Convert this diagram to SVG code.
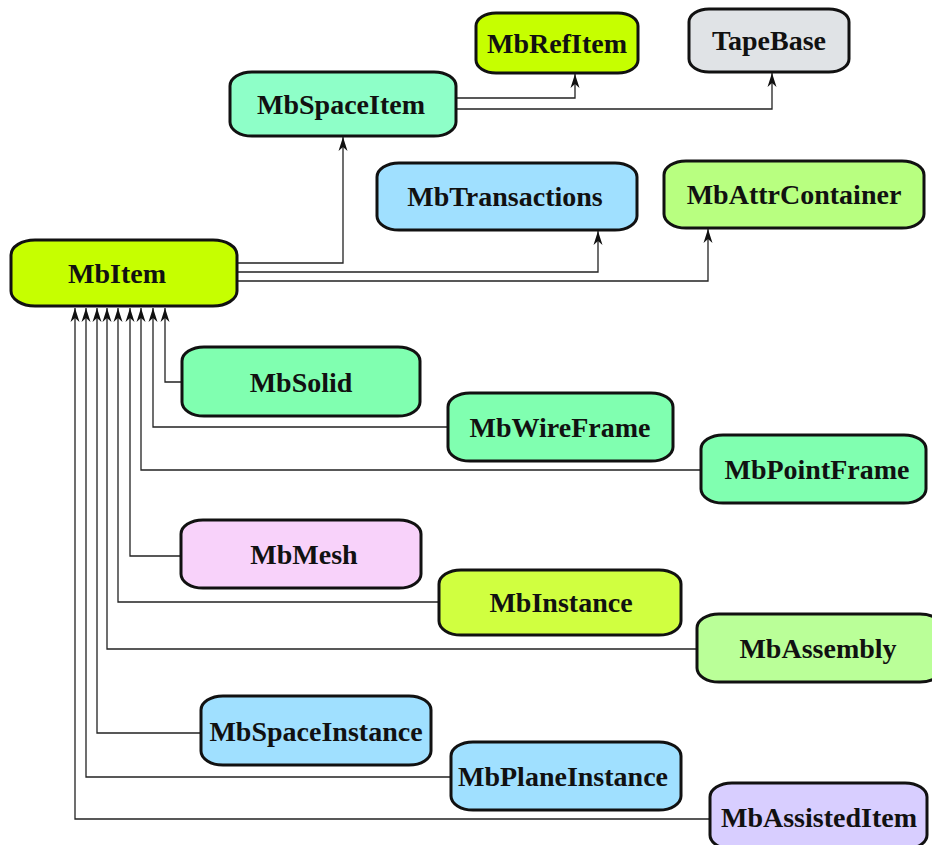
<svg xmlns="http://www.w3.org/2000/svg" width="932" height="845" viewBox="0 0 932 845">
<defs>
<style>
.n rect{stroke:#111;stroke-width:3}
.n text{font-family:"Liberation Serif","Times New Roman",serif;font-weight:bold;font-size:28px;text-anchor:middle;fill:#111}
.c path{fill:none;stroke:#222;stroke-width:1.3}
</style>
<marker id="a" viewBox="0 0 14 10" refX="14" refY="5" markerWidth="14" markerHeight="10" markerUnits="userSpaceOnUse" orient="auto">
<path d="M0,0.5 L14,5 L0,9.5 L4,5 Z" fill="#111"/>
</marker>
</defs>
<rect width="932" height="845" fill="#fff"/>
<g class="c">
<path d="M456,98 H575 V74" marker-end="url(#a)"/>
<path d="M456,109 H772 V73" marker-end="url(#a)"/>
<path d="M237,263 H343 V137" marker-end="url(#a)"/>
<path d="M237,272 H598 V231" marker-end="url(#a)"/>
<path d="M237,281 H708 V229" marker-end="url(#a)"/>
<path d="M182,382 H165 V308" marker-end="url(#a)"/>
<path d="M448,427 H153 V308" marker-end="url(#a)"/>
<path d="M701,470 H141 V308" marker-end="url(#a)"/>
<path d="M181,556 H130 V308" marker-end="url(#a)"/>
<path d="M439,602 H118 V308" marker-end="url(#a)"/>
<path d="M697,649 H107 V308" marker-end="url(#a)"/>
<path d="M201,733 H97 V308" marker-end="url(#a)"/>
<path d="M451,777 H86 V308" marker-end="url(#a)"/>
<path d="M710,819 H75 V308" marker-end="url(#a)"/>
</g>
<g id="MbRefItem" class="n"><rect x="476" y="13" width="162" height="60" rx="20" ry="13" fill="#c6ff00"/><text x="557" y="53">MbRefItem</text></g>
<g id="TapeBase" class="n"><rect x="689" y="9" width="160" height="63" rx="20" ry="13" fill="#e0e3e6"/><text x="769" y="50">TapeBase</text></g>
<g id="MbSpaceItem" class="n"><rect x="230" y="72" width="226" height="64" rx="22" ry="14" fill="#8effc8"/><text x="341" y="114">MbSpaceItem</text></g>
<g id="MbTransactions" class="n"><rect x="377" y="163" width="260" height="67" rx="22" ry="14" fill="#a0e0ff"/><text x="505" y="206">MbTransactions</text></g>
<g id="MbAttrContainer" class="n"><rect x="664" y="161" width="260" height="67" rx="22" ry="14" fill="#b8ff80"/><text x="794" y="204">MbAttrContainer</text></g>
<g id="MbItem" class="n"><rect x="11" y="240" width="226" height="66" rx="24" ry="15" fill="#c6ff00"/><text x="117" y="283">MbItem</text></g>
<g id="MbSolid" class="n"><rect x="182" y="347" width="238" height="69" rx="22" ry="14" fill="#80ffb0"/><text x="301" y="392">MbSolid</text></g>
<g id="MbWireFrame" class="n"><rect x="448" y="393" width="225" height="68" rx="22" ry="14" fill="#80ffb0"/><text x="560" y="437">MbWireFrame</text></g>
<g id="MbPointFrame" class="n"><rect x="701" y="435" width="225" height="68" rx="22" ry="14" fill="#80ffb0"/><text x="817" y="479">MbPointFrame</text></g>
<g id="MbMesh" class="n"><rect x="181" y="520" width="240" height="68" rx="22" ry="14" fill="#f8d2fa"/><text x="304" y="564">MbMesh</text></g>
<g id="MbInstance" class="n"><rect x="439" y="570" width="242" height="65" rx="22" ry="14" fill="#d0ff40"/><text x="561" y="612">MbInstance</text></g>
<g id="MbAssembly" class="n"><rect x="697" y="614" width="245" height="68" rx="22" ry="14" fill="#baff98"/><text x="818" y="658">MbAssembly</text></g>
<g id="MbSpaceInstance" class="n"><rect x="201" y="696" width="230" height="69" rx="22" ry="14" fill="#a0e0ff"/><text x="316" y="741">MbSpaceInstance</text></g>
<g id="MbPlaneInstance" class="n"><rect x="451" y="742" width="230" height="68" rx="22" ry="14" fill="#a0e0ff"/><text x="563" y="786">MbPlaneInstance</text></g>
<g id="MbAssistedItem" class="n"><rect x="710" y="783" width="217" height="66" rx="22" ry="14" fill="#d8ceff"/><text x="819" y="827">MbAssistedItem</text></g>
</svg>
